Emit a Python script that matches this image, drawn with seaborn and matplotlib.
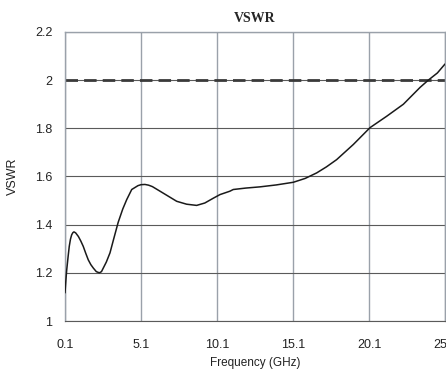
import numpy as np
import pandas as pd
import matplotlib
matplotlib.use("Agg")
import matplotlib.pyplot as plt
import seaborn as sns

# values
freq = [0.1, 0.16, 0.21, 0.3, 0.38, 0.46, 0.54, 0.62, 0.69, 0.8, 0.98, 1.14, 1.3,
        1.46, 1.63, 1.8, 1.96, 2.16, 2.36, 2.5, 2.62, 2.82, 3.06, 3.3, 3.6, 3.9,
        4.16, 4.49, 4.9, 5.1, 5.36, 5.6, 5.85, 6.35, 6.9, 7.45, 8.1, 8.76, 9.3,
        9.86, 10.3, 10.95, 11.17, 12.0, 12.93, 14.0, 15.12, 15.9, 16.66,
        17.3, 17.97, 19.07, 20.17, 21.26, 22.36, 23.46, 24.0, 24.6, 25.1]
vswr = [1.117, 1.17, 1.21, 1.265, 1.31, 1.34, 1.358, 1.367, 1.37, 1.366, 1.351, 1.332, 1.31,
        1.282, 1.254, 1.234, 1.22, 1.205, 1.20, 1.205, 1.22, 1.245, 1.283, 1.34, 1.41, 1.465,
        1.504, 1.546, 1.562, 1.566, 1.567, 1.564, 1.558, 1.539, 1.518, 1.497, 1.485, 1.48, 1.49,
        1.51, 1.525, 1.539, 1.546, 1.552, 1.557, 1.565, 1.576, 1.592, 1.615,
        1.64, 1.67, 1.733, 1.803, 1.85, 1.90, 1.97, 2.0, 2.03, 2.067]
limit = 2.0
xticks = [0.1, 5.1, 10.1, 15.1, 20.1, 25.1]
yticks = [1, 1.2, 1.4, 1.6, 1.8, 2, 2.2]
ytick_labels = ["1", "1.2", "1.4", "1.6", "1.8", "2", "2.2"]

df = pd.DataFrame({"Frequency (GHz)": freq, "VSWR": vswr})

sns.set_style("white")
plt.rcParams["font.family"] = ["Liberation Sans", "DejaVu Sans"]

fig = plt.figure(figsize=(4.46, 3.74), dpi=100)
ax = fig.add_axes([65/446, 1 - 321/374, 380/446, 289/374])

sns.lineplot(data=df, x="Frequency (GHz)", y="VSWR", color="#1a1a1a",
             linewidth=1.1, ax=ax, zorder=3)
ax.axhline(limit, color="#3a3a3a", linestyle=(0, (4.5, 2.2)), linewidth=2.0, zorder=2)

ax.set_xlim(0.1, 25.1)
ax.set_ylim(1, 2.2)
ax.set_xticks(xticks)
ax.set_xticklabels([str(t) for t in xticks])
ax.set_yticks(yticks)
ax.set_yticklabels(ytick_labels)
ax.tick_params(axis="x", length=0, pad=13, labelsize=9, labelcolor="#222222")
ax.tick_params(axis="y", length=0, pad=9, labelsize=9, labelcolor="#222222")

ax.xaxis.grid(True, color="#9aa1aa", linewidth=1.0)
ax.yaxis.grid(True, color="#5a5a5a", linewidth=0.8)
for side in ["left", "top", "right"]:
    ax.spines[side].set_color("#9aa1aa")
    ax.spines[side].set_linewidth(1.0)
ax.spines["bottom"].set_color("#5a5a5a")
ax.spines["bottom"].set_linewidth(0.8)

ax.set_xlabel("Frequency (GHz)", fontsize=8.5, color="#222222", labelpad=4)
ax.set_ylabel("VSWR", fontsize=9, color="#222222", labelpad=12)
ax.set_title("VSWR", fontsize=10, fontweight="bold",
             family=["Liberation Serif", "DejaVu Serif"], pad=7)

fig.savefig("out.png", dpi=100)
